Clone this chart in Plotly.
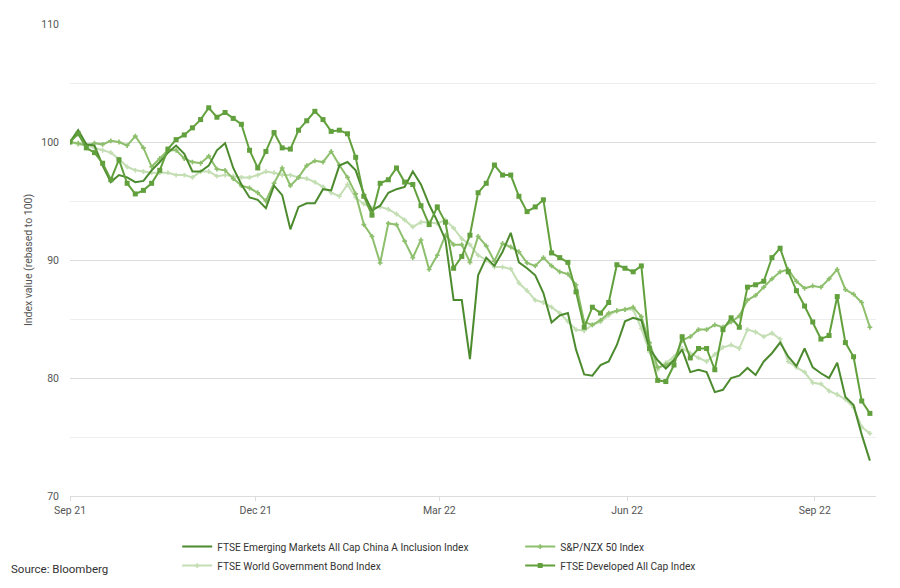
import pandas as pd
import plotly.graph_objects as go

# Observation dates (every 4 days, Sep 2021 - Sep 2022)
dates = pd.date_range("2021-09-01", periods=99, freq="4D")

# Index values rebased to 100
emerging_china_a = [
    100.0, 101.0, 99.8, 99.7, 98.0, 96.6, 97.2, 97.0, 96.6, 96.7,
    97.6, 98.3, 99.1, 99.7, 99.0, 97.5, 97.5, 98.0, 99.3, 99.9,
    97.8, 96.4, 95.3, 95.1, 94.4, 96.3, 95.5, 92.6, 94.5, 94.8,
    94.8, 96.0, 95.9, 98.0, 98.3, 97.6, 95.6, 94.2, 94.6, 95.7,
    96.0, 96.2, 97.5, 96.4, 94.7, 93.3, 91.7, 86.6, 86.6, 81.6,
    88.7, 90.2, 89.5, 90.7, 92.3, 89.8, 89.3, 88.7, 87.2, 84.7,
    85.3, 85.5, 82.4, 80.3, 80.2, 81.1, 81.4, 82.8, 84.8, 85.1,
    84.9, 82.5, 81.5, 80.8, 81.5, 82.4, 80.5, 80.7, 80.5, 78.8,
    79.0, 80.0, 80.2, 80.85, 80.25, 81.4, 82.1, 83.0, 81.8, 81.0,
    82.5, 80.9, 80.4, 80.0, 81.3, 78.4, 77.7, 75.2, 73.0,
]

snp_nzx50 = [
    100.0, 99.9, 99.7, 99.9, 99.8, 100.1, 100.0, 99.7, 100.5, 99.5,
    97.9, 98.6, 99.3, 99.3, 98.6, 98.3, 98.2, 98.8, 97.7, 97.6,
    96.9, 96.3, 96.1, 95.7, 95.0, 96.5, 97.8, 96.3, 97.0, 98.0,
    98.4, 98.3, 99.2, 98.05, 97.0, 95.6, 93.0, 92.0, 89.75, 93.1,
    93.0, 91.6, 90.2, 91.7, 89.2, 90.4, 92.1, 91.3, 91.3, 89.8,
    92.0, 91.2, 89.9, 91.4, 91.1, 90.7, 89.75, 89.5, 90.2, 89.5,
    89.0, 88.8, 87.9, 84.75, 84.5, 84.9, 85.5, 85.7, 85.8, 86.0,
    85.2, 83.0, 80.9, 81.1, 81.5, 83.2, 83.5, 84.1, 84.1, 84.5,
    84.3, 84.75, 85.25, 86.6, 87.0, 87.7, 88.4, 89.0, 89.2, 88.2,
    87.6, 87.8, 87.7, 88.4, 89.2, 87.5, 87.1, 86.4, 84.3,
]

world_gov_bond = [
    100.0, 99.8, 99.7, 99.5, 99.3, 99.1, 98.55, 97.9, 97.6, 97.5,
    97.4, 97.4, 97.4, 97.2, 97.2, 97.0, 97.5, 97.5, 97.1, 97.2,
    97.1, 97.0, 97.0, 97.2, 97.5, 97.4, 97.2, 97.2, 97.0, 96.9,
    96.6, 96.2, 95.7, 95.4, 96.4, 95.3, 94.75, 94.4, 94.5, 94.3,
    93.9, 93.4, 92.8, 93.2, 93.2, 93.1, 93.4, 92.7, 91.8, 91.3,
    90.4, 90.0, 89.4, 89.4, 89.25, 88.05, 87.4, 86.6, 86.4, 86.0,
    85.5, 84.8, 84.1, 84.0, 84.5, 84.75, 85.3, 85.7, 85.8, 85.8,
    84.2, 82.2, 80.7, 81.3, 81.8, 82.5, 82.1, 81.7, 81.4, 82.0,
    82.6, 82.8, 82.5, 84.1, 83.9, 83.5, 83.8, 83.3, 81.4, 80.9,
    80.5, 79.6, 79.5, 78.9, 78.6, 78.2, 77.5, 75.85, 75.3,
]

developed_all_cap = [
    100.0, 100.7, 99.5, 99.1, 98.2, 96.8, 98.5, 96.5, 95.6, 95.9,
    96.5, 97.6, 99.4, 100.2, 100.6, 101.2, 101.9, 102.9, 102.1, 102.5,
    102.0, 101.5, 99.3, 97.8, 99.2, 100.8, 99.5, 99.4, 101.0, 101.8,
    102.6, 101.9, 100.9, 101.0, 100.7, 98.7, 95.4, 93.8, 96.5, 96.8,
    97.8, 96.6, 96.4, 94.6, 93.0, 94.5, 93.2, 89.3, 90.3, 92.1,
    95.7, 96.5, 98.05, 97.2, 97.2, 95.4, 94.1, 94.5, 95.1, 90.6,
    90.2, 89.8, 87.3, 84.3, 86.0, 85.5, 86.4, 89.6, 89.3, 89.0,
    89.5, 82.5, 79.8, 79.7, 81.1, 83.5, 81.7, 82.5, 82.5, 80.7,
    84.1, 85.1, 84.3, 87.7, 87.9, 88.2, 90.2, 91.0, 89.0, 87.4,
    86.1, 84.75, 83.3, 83.6, 86.9, 83.0, 81.8, 78.05, 77.0,
]

tick_dates = ["2021-09-01", "2021-12-01", "2022-03-01", "2022-06-01", "2022-09-01"]
tick_labels = ["Sep 21", "Dec 21", "Mar 22", "Jun 22", "Sep 22"]

FONT = "Roboto, sans-serif"
TEXT_GREY = "#555555"

fig = go.Figure()

fig.add_trace(go.Scatter(
    x=dates, y=world_gov_bond, name="FTSE World Government Bond Index",
    mode="lines+markers", legendrank=3,
    line=dict(color="#c4deb4", width=2),
    marker=dict(symbol="cross", size=4, color="#c4deb4"),
))
fig.add_trace(go.Scatter(
    x=dates, y=snp_nzx50, name="S&P/NZX 50 Index",
    mode="lines+markers", legendrank=2,
    line=dict(color="#8dbf6c", width=2),
    marker=dict(symbol="cross", size=4, color="#8dbf6c"),
))
fig.add_trace(go.Scatter(
    x=dates, y=emerging_china_a, name="FTSE Emerging Markets All Cap China A Inclusion Index",
    mode="lines", legendrank=1,
    line=dict(color="#4c8a2e", width=2),
))
fig.add_trace(go.Scatter(
    x=dates, y=developed_all_cap, name="FTSE Developed All Cap Index",
    mode="lines+markers", legendrank=4,
    line=dict(color="#61a03c", width=2),
    marker=dict(symbol="square", size=5, color="#61a03c"),
))

fig.update_layout(
    template="none",
    width=900, height=588,
    margin=dict(l=70, r=24, t=24, b=92, autoexpand=False),
    paper_bgcolor="white", plot_bgcolor="white",
    font=dict(family=FONT, size=10.5, color=TEXT_GREY),
    xaxis=dict(
        range=["2021-09-01", "2022-10-01"],
        tickvals=tick_dates, ticktext=tick_labels,
        tickfont=dict(family=FONT, size=10.5, color=TEXT_GREY),
        showgrid=False, zeroline=False,
        showline=True, linecolor="#dcdcdc", linewidth=1,
        ticks="outside", ticklen=4, tickcolor="#dcdcdc",
        automargin=False,
    ),
    yaxis=dict(
        range=[70, 110],
        tickvals=[70, 80, 90, 100, 110],
        tickfont=dict(family=FONT, size=10.5, color=TEXT_GREY),
        ticklabelstandoff=10,
        ticks="",
        showgrid=True, gridcolor="#dcdcdc", gridwidth=1,
        zeroline=False, showline=False,
        minor=dict(tickvals=[75, 85, 95, 105], showgrid=True, gridcolor="#eeeeee", ticks=""),
        title=dict(text="Index value (rebased to 100)", standoff=6,
                   font=dict(family=FONT, size=10.5, color=TEXT_GREY)),
        automargin=False,
    ),
    legend=dict(
        orientation="h", x=0.133, y=-0.0765, xanchor="left", yanchor="top",
        entrywidth=298, font=dict(family=FONT, size=10.2, color="#333333"),
        bgcolor="rgba(0,0,0,0)",
    ),
    annotations=[dict(
        text="Source: Bloomberg", xref="paper", yref="paper",
        x=-0.0757, y=-0.155, xanchor="left", yanchor="middle",
        showarrow=False, font=dict(family=FONT, size=11.5, color="#333333"),
    )],
    showlegend=True,
)

# Remove the browser's default 8px page margin so the figure fills the window exactly
fig.write_html(
    "out.html",
    config={"displayModeBar": False},
    post_script="document.body.style.margin='0';",
)
